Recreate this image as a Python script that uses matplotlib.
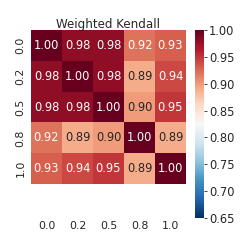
import matplotlib
matplotlib.use("Agg")
import matplotlib.pyplot as plt
import seaborn as sns
import numpy as np

labels = ["0.0", "0.2", "0.5", "0.8", "1.0"]
row0 = [1.00, 0.98, 0.98, 0.92, 0.93]
row1 = [0.98, 1.00, 0.98, 0.89, 0.94]
row2 = [0.98, 0.98, 1.00, 0.90, 0.95]
row3 = [0.92, 0.89, 0.90, 1.00, 0.89]
row4 = [0.93, 0.94, 0.95, 0.89, 1.00]
title = "Weighted Kendall"
cbar_ticks = [0.65, 0.70, 0.75, 0.80, 0.85, 0.90, 0.95, 1.00]

data = np.array([row0, row1, row2, row3, row4])

sns.set_style("white")
plt.rcParams['font.family'] = ['DejaVu Sans']
txt = '#262626'

W = H = 249
fig = plt.figure(figsize=(W / 100, H / 100), dpi=100)
ax = fig.add_axes([31 / W, (H - 215) / H, 155 / W, 185 / H])
cax = fig.add_axes([195 / W, (H - 218) / H, 9 / W, 188 / H])

sns.heatmap(data, ax=ax, cbar_ax=cax, cmap="RdBu_r", vmin=0.65, vmax=1.0,
            annot=True, fmt=".2f", annot_kws={"fontsize": 8.3},
            xticklabels=labels, yticklabels=labels)
ax.set_ylim(6, 0)
ax.set_title(title, fontsize=8.6, color=txt, pad=1.5)
ax.tick_params(length=0, labelsize=7.9, colors=txt, pad=4)
plt.setp(ax.get_yticklabels(), rotation=90, va='center')
plt.setp(ax.get_xticklabels(), rotation=0)
for s in ax.spines.values():
    s.set_visible(False)

cax.set_yticks(cbar_ticks)
cax.set_yticklabels([f"{t:.2f}" for t in cbar_ticks])
cax.tick_params(labelsize=8.3, colors=txt, length=2.5, width=0.6, pad=1)

fig.savefig("out.png", dpi=100)
